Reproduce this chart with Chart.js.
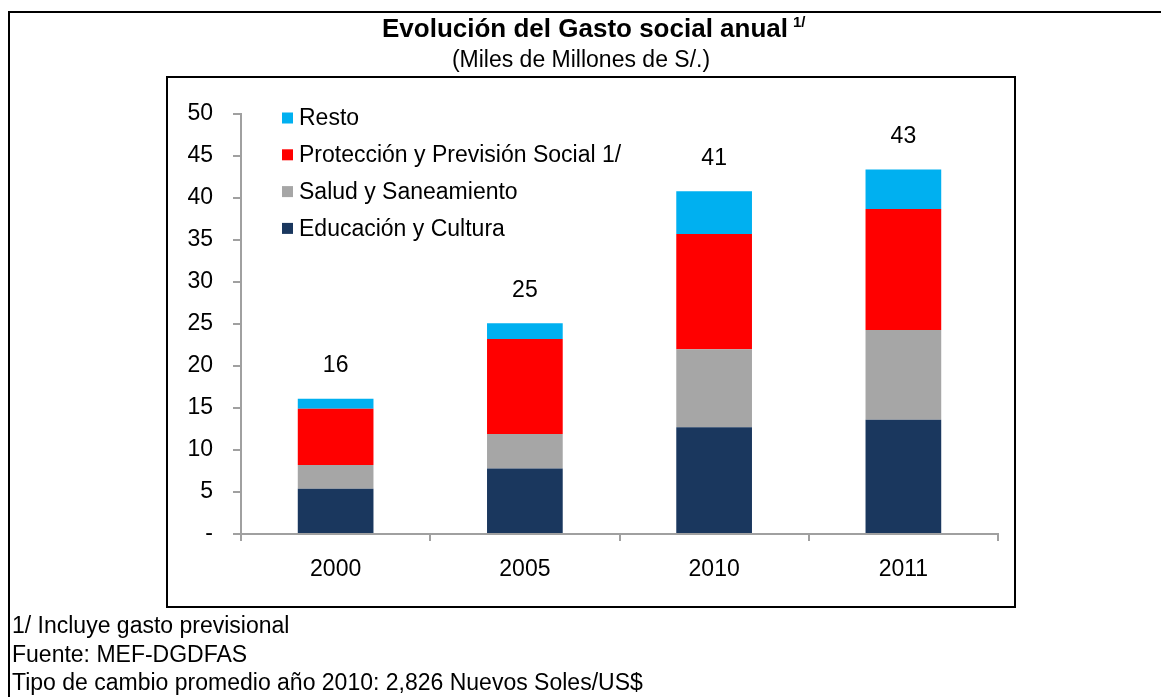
<!DOCTYPE html>
<html>
<head>
<meta charset="utf-8">
<script src="https://cdn.jsdelivr.net/npm/chart.js@4.4.0/dist/chart.umd.min.js"></script>
<style>
  body { margin: 0; background: #fff; }
  #wrap { width: 1161px; height: 697px; }
</style>
</head>
<body>
<div id="wrap"><canvas id="gastoChart" width="1161" height="697"></canvas></div>
<script>
// datos (miles de millones de S/.)
const years = ["2000", "2005", "2010", "2011"];
const educacion = [5.4, 7.8, 12.7, 13.6];
const salud = [2.8, 4.1, 9.3, 10.7];
const proteccion = [6.7, 11.3, 13.7, 14.4];
const resto = [1.2, 1.9, 5.1, 4.7];
const yTicks = [0, 5, 10, 15, 20, 25, 30, 35, 40, 45, 50];

const notes = [
    "1/ Incluye gasto previsional",
    "Fuente: MEF-DGDFAS",
    "Tipo de cambio promedio año 2010: 2,826 Nuevos Soles/US$"
];

const fontName = "'Liberation Sans', Arial, sans-serif";
const axisGray = "#a0a0a0";

// totales encima de cada barra
const totals = years.map((y, i) => educacion[i] + salud[i] + proteccion[i] + resto[i]);

const decoPlugin = {
    id: "deco",
    beforeDraw(chart) {
        const ctx = chart.ctx;
        ctx.save();
        ctx.fillStyle = "#fff";
        ctx.fillRect(0, 0, chart.width, chart.height);
        ctx.restore();
    },
    afterDraw(chart) {
        const ctx = chart.ctx;
        ctx.save();

        // marco exterior (sigue fuera de la imagen a la derecha y abajo)
        ctx.strokeStyle = "#000";
        ctx.lineWidth = 2;
        ctx.beginPath();
        ctx.moveTo(1161, 12);
        ctx.lineTo(9, 12);
        ctx.lineTo(9, 697);
        ctx.stroke();

        // marco del grafico
        ctx.strokeRect(167, 77, 848, 530);

        // titulo
        ctx.fillStyle = "#000";
        ctx.textBaseline = "alphabetic";
        ctx.textAlign = "center";
        ctx.font = "bold 26px " + fontName;
        const title = "Evolución del Gasto social anual";
        ctx.fillText(title, 585, 37);
        const tw = ctx.measureText(title).width;
        ctx.textAlign = "left";
        ctx.font = "bold 15px " + fontName;
        ctx.fillText("1/", 585 + tw / 2 + 5, 27);

        ctx.textAlign = "center";
        ctx.font = "23px " + fontName;
        ctx.fillText("(Miles de Millones de S/.)", 581, 67);

        // leyenda (orden inverso)
        ctx.textAlign = "left";
        ctx.textBaseline = "middle";
        const ds = chart.data.datasets.slice().reverse();
        ds.forEach((d, k) => {
            const yy = 118 + k * 36.8;
            ctx.fillStyle = d.backgroundColor;
            ctx.fillRect(282, yy - 5.5, 11, 11);
            ctx.fillStyle = "#000";
            ctx.fillText(d.label, 299, yy + 1);
        });

        // totales
        const meta = chart.getDatasetMeta(chart.data.datasets.length - 1);
        ctx.textAlign = "center";
        meta.data.forEach((bar, i) => {
            ctx.fillText(String(Math.round(totals[i])), bar.x, bar.y - 33);
        });

        // notas
        ctx.textAlign = "left";
        notes.forEach((n, k) => {
            ctx.fillText(n, 12, 627 + k * 28.5);
        });

        ctx.restore();
    }
};

const data = {
    labels: years,
    datasets: [
        { label: "Educación y Cultura", data: educacion, backgroundColor: "#1a375e" },
        { label: "Salud y Saneamiento", data: salud, backgroundColor: "#a6a6a6" },
        { label: "Protección y Previsión Social 1/", data: proteccion, backgroundColor: "#ff0000" },
        { label: "Resto", data: resto, backgroundColor: "#00b0f0" }
    ]
};

var gastoChart = new Chart(document.getElementById("gastoChart").getContext("2d"), {
    type: "bar",
    data: data,
    plugins: [decoPlugin],
    options: {
        responsive: false,
        animation: false,
        layout: { padding: { top: 114, right: 163, bottom: 0, left: 0 } },
        datasets: { bar: { categoryPercentage: 1.0, barPercentage: 0.4 } },
        plugins: {
            legend: { display: false },
            title: { display: false },
            tooltip: { enabled: false }
        },
        scales: {
            x: {
                stacked: true,
                afterFit: (s) => { s.height = 163; },
                grid: {
                    drawOnChartArea: false,
                    offset: true,
                    tickLength: 7,
                    color: axisGray,
                    lineWidth: 2
                },
                border: { color: axisGray, width: 2 },
                ticks: { color: "#000", padding: 15, font: { family: fontName, size: 23 } }
            },
            y: {
                stacked: true,
                min: 0,
                max: 50,
                afterFit: (s) => { s.width = 241; },
                afterBuildTicks: (s) => { s.ticks = yTicks.map(v => ({ value: v })); },
                grid: {
                    drawOnChartArea: false,
                    tickLength: 8,
                    color: axisGray,
                    lineWidth: 2
                },
                border: { color: axisGray, width: 2 },
                ticks: {
                    color: "#000",
                    padding: 20,
                    font: { family: fontName, size: 23 },
                    callback: (v) => (v === 0 ? "-" : v)
                }
            }
        }
    }
});
</script>
</body>
</html>
